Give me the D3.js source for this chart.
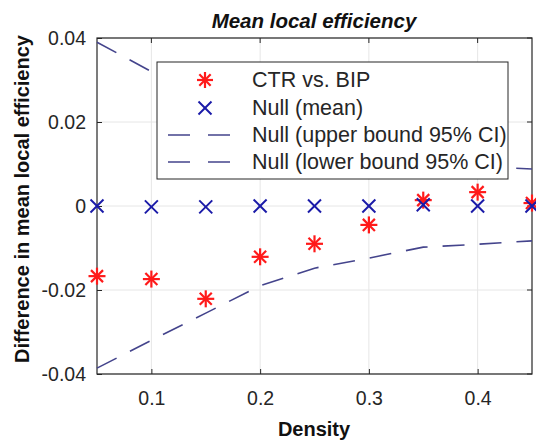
<!DOCTYPE html>
<html><head><meta charset="utf-8">
<script src="https://cdn.jsdelivr.net/npm/d3@7"></script>
<style>body{margin:0;background:#fff}svg{display:block}text{font-family:"Liberation Sans",Arial,sans-serif}</style>
</head><body>
<svg id="c" width="536" height="444"></svg>
<script>
const density = [0.05,0.10,0.15,0.20,0.25,0.30,0.35,0.40,0.45];
const ctrVsBip = [-0.0167,-0.0174,-0.0221,-0.0121,-0.0090,-0.0045,0.0014,0.0033,0.0007];
const nullMean = [0.0000,-0.0002,-0.0002,0.0000,0.0000,0.0000,0.0003,0.0000,0.0000];
const nullUpper = [0.0390,0.0320,0.0255,0.0190,0.0150,0.0125,0.0105,0.0095,0.0088];
const nullLower = [-0.0386,-0.0320,-0.0255,-0.0190,-0.0148,-0.0124,-0.0098,-0.0091,-0.0083];
const xTicks = [0.1,0.2,0.3,0.4];
const yTicks = [-0.04,-0.02,0,0.02,0.04];
const yTickLabels = ["-0.04","-0.02","0","0.02","0.04"];
const legendLabels = ["CTR vs. BIP","Null (mean)","Null (upper bound 95% CI)","Null (lower bound 95% CI)"];

const svg = d3.select("#c");
const L=97,R=532,T=38,B=374;
const x = d3.scaleLinear().domain([0.05,0.45]).range([L,R]);
const y = d3.scaleLinear().domain([-0.04,0.04]).range([B,T]);
const axisCol="#262626", lineCol="#44448c", red="#ff1a1a", blue="#1a1aa8";

// grid
svg.append("g").selectAll("line").data(xTicks).join("line")
  .attr("x1",d=>x(d)).attr("x2",d=>x(d)).attr("y1",T).attr("y2",B)
  .attr("stroke","#e6e6e6").attr("stroke-width",1);
svg.append("g").selectAll("line").data(yTicks).join("line")
  .attr("x1",L).attr("x2",R).attr("y1",d=>y(d)).attr("y2",d=>y(d))
  .attr("stroke","#e6e6e6").attr("stroke-width",1);

// axes
const xa = svg.append("g").attr("transform",`translate(0,${B})`)
  .call(d3.axisBottom(x).tickValues(xTicks).tickFormat(d3.format(".1f")).tickSizeInner(-5).tickSizeOuter(0).tickPadding(17));
const ya = svg.append("g").attr("transform",`translate(${L},0)`)
  .call(d3.axisLeft(y).tickValues(yTicks).tickFormat((d,i)=>yTickLabels[i]).tickSizeInner(-5).tickSizeOuter(0).tickPadding(11));
[xa,ya].forEach(g=>{
  g.select(".domain").remove();
  g.selectAll("line").attr("stroke",axisCol);
  g.selectAll("text").attr("fill",axisCol).style("font-size","19.5px").style("font-family","Liberation Sans, Arial, sans-serif");
});
// right / top ticks
svg.append("g").selectAll("line").data(yTicks).join("line")
  .attr("x1",R).attr("x2",R-5).attr("y1",d=>y(d)).attr("y2",d=>y(d)).attr("stroke",axisCol);
svg.append("g").selectAll("line").data(xTicks).join("line")
  .attr("x1",d=>x(d)).attr("x2",d=>x(d)).attr("y1",T).attr("y2",T+5).attr("stroke",axisCol);
// box
svg.append("rect").attr("x",L).attr("y",T).attr("width",R-L).attr("height",B-T)
  .attr("fill","none").attr("stroke",axisCol).attr("stroke-width",1.2);

// dashed bounds
const line = d3.line().x((d,i)=>x(density[i])).y(d=>y(d));
[nullUpper,nullLower].forEach(arr=>{
  svg.append("path").attr("d",line(arr)).attr("fill","none").attr("stroke",lineCol)
    .attr("stroke-width",1.6).attr("stroke-dasharray","22,15");
});

function star(g,cx,cy,r){
  for(let k=0;k<4;k++){
    const a=k*Math.PI/4;
    g.append("line").attr("x1",cx-r*Math.cos(a)).attr("y1",cy-r*Math.sin(a))
      .attr("x2",cx+r*Math.cos(a)).attr("y2",cy+r*Math.sin(a))
      .attr("stroke",red).attr("stroke-width",2.2);
  }
}
function cross(g,cx,cy,r){
  g.append("line").attr("x1",cx-r).attr("y1",cy-r).attr("x2",cx+r).attr("y2",cy+r).attr("stroke",blue).attr("stroke-width",2);
  g.append("line").attr("x1",cx-r).attr("y1",cy+r).attr("x2",cx+r).attr("y2",cy-r).attr("stroke",blue).attr("stroke-width",2);
}
const gm = svg.append("g");
ctrVsBip.forEach((v,i)=>star(gm,x(density[i]),y(v),8.5));
nullMean.forEach((v,i)=>cross(gm,x(density[i]),y(v),6.5));

// legend
const lg = svg.append("g");
lg.append("rect").attr("x",157).attr("y",62).attr("width",351).attr("height",117)
  .attr("fill","#fff").attr("stroke",axisCol).attr("stroke-width",1);
const rowY = [80,108,135,162];
star(lg,205,rowY[0],8);
cross(lg,205,rowY[1],6.5);
[2,3].forEach(i=>{
  lg.append("line").attr("x1",168).attr("x2",230).attr("y1",rowY[i]).attr("y2",rowY[i])
    .attr("stroke",lineCol).attr("stroke-width",1.6).attr("stroke-dasharray","22,18");
});
lg.selectAll("text").data(legendLabels).join("text")
  .attr("x",252).attr("y",(d,i)=>rowY[i]+7).text(d=>d)
  .attr("fill",axisCol).style("font-size","21.5px");

// titles
svg.append("text").attr("x",314).attr("y",28).attr("text-anchor","middle")
  .style("font-size","20.5px").style("font-weight","bold").style("font-style","italic")
  .attr("fill","#111").text("Mean local efficiency");
svg.append("text").attr("x",314).attr("y",436).attr("text-anchor","middle")
  .style("font-size","20px").style("font-weight","bold").attr("fill","#111").text("Density");
svg.append("text").attr("transform","translate(29,199) rotate(-90)").attr("text-anchor","middle")
  .style("font-size","20px").style("font-weight","bold").attr("fill","#111").text("Difference in mean local efficiency");
</script>
</body></html>
